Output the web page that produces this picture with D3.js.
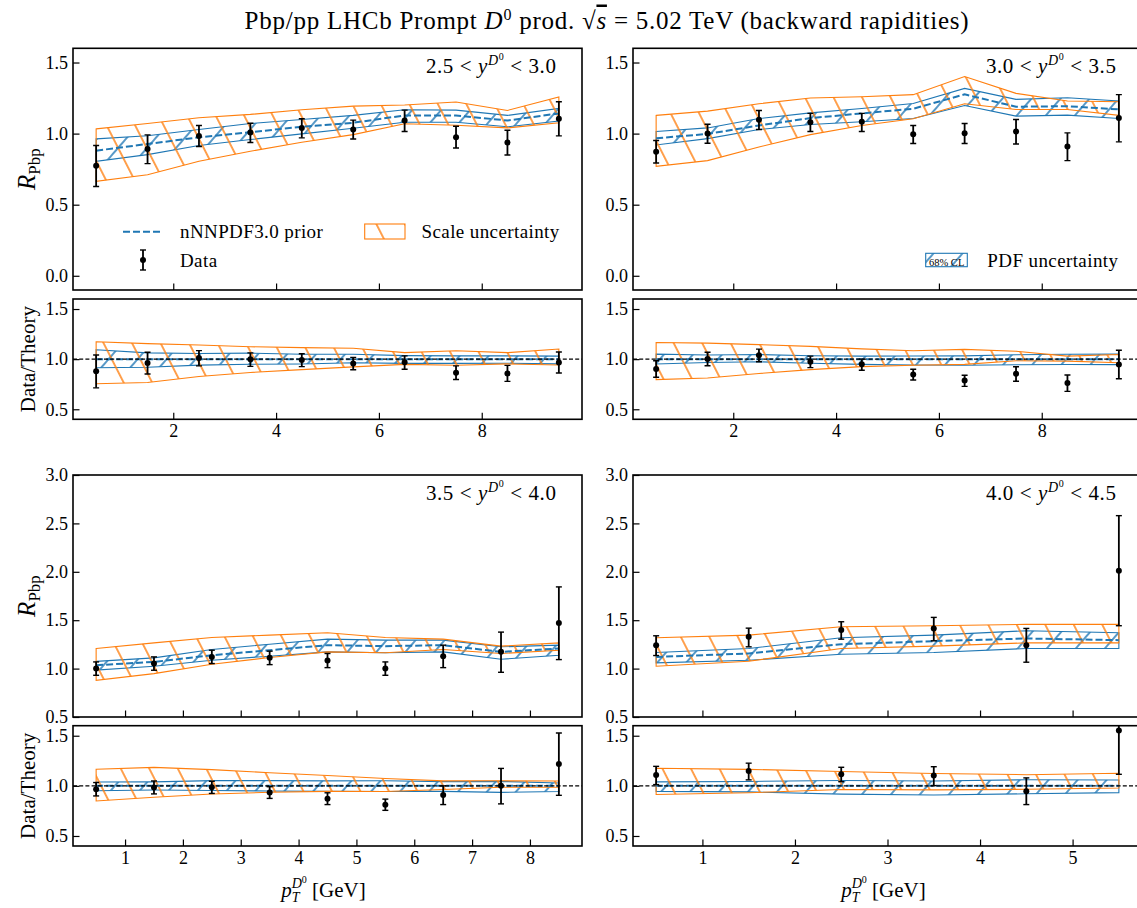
<!DOCTYPE html>
<html>
<head>
<meta charset="utf-8">
<script src="https://cdn.jsdelivr.net/npm/d3@7"></script>
<style>
  body { margin: 0; background: #fff; }
  svg { display: block; }
  text { font-family: 'Liberation Serif', 'Times New Roman', serif; fill: #000; white-space: pre; }
</style>
</head>
<body>
<svg id="chart" width="1137" height="908"></svg>
<script>
//////////////////////////////////////////////////////////////////////////////
// Data
//////////////////////////////////////////////////////////////////////////////

const pt_10 = [0.5, 1.5, 2.5, 3.5, 4.5, 5.5, 6.5, 7.5, 8.5, 9.5]
const pt_9 = [0.5, 1.5, 2.5, 3.5, 4.5, 5.5, 6.5, 7.5, 8.5]
const pt_6 = [0.5, 1.5, 2.5, 3.5, 4.5, 5.5]

// 2.5 < y < 3.0
const y25_data    = [0.774, 0.892, 0.984, 1.008, 1.040, 1.029, 1.092, 0.975, 0.937, 1.104]
const y25_data_hi = [0.916, 0.991, 1.057, 1.073, 1.104, 1.095, 1.165, 1.052, 1.024, 1.224]
const y25_data_lo = [0.628, 0.789, 0.909, 0.937, 0.970, 0.962, 1.015, 0.899, 0.850, 0.984]
const y25_cv      = [0.880, 0.927, 0.974, 1.010, 1.048, 1.076, 1.128, 1.128, 1.092, 1.142]
const y25_pdf_hi  = [0.963, 0.985, 1.029, 1.071, 1.099, 1.128, 1.168, 1.165, 1.128, 1.177]
const y25_pdf_lo  = [0.805, 0.852, 0.916, 0.958, 0.998, 1.038, 1.080, 1.080, 1.048, 1.088]
const y25_sc_hi   = [1.033, 1.071, 1.111, 1.135, 1.168, 1.193, 1.201, 1.222, 1.163, 1.257]
const y25_sc_lo   = [0.664, 0.711, 0.805, 0.876, 0.939, 0.993, 1.069, 1.059, 1.040, 1.076]

// 3.0 < y < 3.5
const y30_data    = [0.873, 1.000, 1.097, 1.080, 1.083, 0.996, 1.003, 1.015, 0.909, 1.109]
const y30_data_hi = [0.951, 1.066, 1.163, 1.142, 1.142, 1.057, 1.071, 1.099, 1.005, 1.274]
const y30_data_lo = [0.793, 0.932, 1.029, 1.015, 1.015, 0.930, 0.930, 0.927, 0.810, 0.942]
const y30_cv      = [0.967, 0.998, 1.057, 1.109, 1.142, 1.175, 1.276, 1.189, 1.193, 1.170]
const y30_pdf_hi  = [1.015, 1.040, 1.106, 1.146, 1.177, 1.212, 1.318, 1.241, 1.252, 1.229]
const y30_pdf_lo  = [0.920, 0.965, 1.029, 1.064, 1.083, 1.106, 1.198, 1.123, 1.130, 1.106]
const y30_sc_hi   = [1.128, 1.158, 1.210, 1.250, 1.259, 1.274, 1.401, 1.283, 1.229, 1.224]
const y30_sc_lo   = [0.770, 0.810, 0.906, 0.993, 1.057, 1.104, 1.210, 1.170, 1.170, 1.128]

// 3.5 < y < 4.0
const y35_data    = [1.000, 1.052, 1.121, 1.111, 1.083, 1.000, 1.128, 1.173, 1.470]
const y35_data_hi = [1.069, 1.121, 1.190, 1.180, 1.156, 1.069, 1.242, 1.377, 1.844]
const y35_data_lo = [0.931, 0.983, 1.052, 1.041, 1.010, 0.931, 1.010, 0.962, 1.093]
const y35_cv      = [1.035, 1.069, 1.138, 1.190, 1.242, 1.232, 1.242, 1.173, 1.207]
const y35_pdf_hi  = [1.075, 1.111, 1.197, 1.252, 1.304, 1.294, 1.294, 1.225, 1.242]
const y35_pdf_lo  = [0.985, 1.024, 1.086, 1.128, 1.173, 1.163, 1.173, 1.097, 1.138]
const y35_sc_hi   = [1.207, 1.266, 1.322, 1.346, 1.370, 1.322, 1.304, 1.232, 1.266]
const y35_sc_lo   = [0.879, 0.948, 1.045, 1.114, 1.173, 1.163, 1.197, 1.156, 1.190]

// 4.0 < y < 4.5
const y40_data    = [1.242, 1.328, 1.398, 1.415, 1.242, 2.010]
const y40_data_hi = [1.339, 1.418, 1.484, 1.529, 1.415, 2.580]
const y40_data_lo = [1.135, 1.225, 1.304, 1.287, 1.066, 1.443]
const y40_cv      = [1.121, 1.156, 1.252, 1.284, 1.311, 1.294]
const y40_pdf_hi  = [1.166, 1.207, 1.318, 1.346, 1.391, 1.370]
const y40_pdf_lo  = [1.059, 1.086, 1.149, 1.166, 1.207, 1.207]
const y40_sc_hi   = [1.318, 1.346, 1.432, 1.443, 1.457, 1.457]
const y40_sc_lo   = [1.024, 1.076, 1.207, 1.232, 1.266, 1.266]

const ticks_top_x = [2, 4, 6, 8]
const ticks_y35_x = [1, 2, 3, 4, 5, 6, 7, 8]
const ticks_y40_x = [1, 2, 3, 4, 5]
const ticks_main_top = [0.0, 0.5, 1.0, 1.5]
const ticks_main_bottom = [0.5, 1.0, 1.5, 2.0, 2.5, 3.0]
const ticks_ratio = [0.5, 1.0, 1.5]

//////////////////////////////////////////////////////////////////////////////
// Style / layout
//////////////////////////////////////////////////////////////////////////////

const blue = '#1f77b4'
const orange = '#ff7f0e'

const col_x = { left: [73, 582], right: [633, 1142] }
const row_y = {
  top:    { main: [48.3, 290], ratio: [299, 419.3] },
  bottom: { main: [475, 717],  ratio: [725.7, 846] }
}

const panels = [
  { id: 'y25', col: 'left', row: 'top', lo: '2.5', hi: '3.0', pt: pt_10,
    data: y25_data, data_hi: y25_data_hi, data_lo: y25_data_lo, cv: y25_cv,
    pdf_hi: y25_pdf_hi, pdf_lo: y25_pdf_lo, sc_hi: y25_sc_hi, sc_lo: y25_sc_lo,
    xdom: [0.05, 9.95], xticks: ticks_top_x, ydom: [-0.1, 1.6], yticks: ticks_main_top },
  { id: 'y30', col: 'right', row: 'top', lo: '3.0', hi: '3.5', pt: pt_10,
    data: y30_data, data_hi: y30_data_hi, data_lo: y30_data_lo, cv: y30_cv,
    pdf_hi: y30_pdf_hi, pdf_lo: y30_pdf_lo, sc_hi: y30_sc_hi, sc_lo: y30_sc_lo,
    xdom: [0.05, 9.95], xticks: ticks_top_x, ydom: [-0.1, 1.6], yticks: ticks_main_top },
  { id: 'y35', col: 'left', row: 'bottom', lo: '3.5', hi: '4.0', pt: pt_9,
    data: y35_data, data_hi: y35_data_hi, data_lo: y35_data_lo, cv: y35_cv,
    pdf_hi: y35_pdf_hi, pdf_lo: y35_pdf_lo, sc_hi: y35_sc_hi, sc_lo: y35_sc_lo,
    xdom: [0.1, 8.9], xticks: ticks_y35_x, ydom: [0.5, 3.0], yticks: ticks_main_bottom },
  { id: 'y40', col: 'right', row: 'bottom', lo: '4.0', hi: '4.5', pt: pt_6,
    data: y40_data, data_hi: y40_data_hi, data_lo: y40_data_lo, cv: y40_cv,
    pdf_hi: y40_pdf_hi, pdf_lo: y40_pdf_lo, sc_hi: y40_sc_hi, sc_lo: y40_sc_lo,
    xdom: [0.25, 5.75], xticks: ticks_y40_x, ydom: [0.5, 3.0], yticks: ticks_main_bottom }
]

const svg = d3.select('#chart')
const defs = svg.append('defs')

//////////////////////////////////////////////////////////////////////////////
// Helpers
//////////////////////////////////////////////////////////////////////////////

function make_hatch(id, color, angle, gap, width) {
  const p = defs.append('pattern')
    .attr('id', id)
    .attr('patternUnits', 'userSpaceOnUse')
    .attr('width', 40)
    .attr('height', gap)
    .attr('patternTransform', 'rotate(' + angle + ')')
  p.append('line')
    .attr('x1', -5).attr('x2', 45)
    .attr('y1', gap / 2).attr('y2', gap / 2)
    .attr('stroke', color)
    .attr('stroke-width', width)
}

// text made of pieces: {t, it, size, up, dx, over}
function math_text(sel, parts) {
  let cur = 0
  parts.forEach(function(p) {
    if (typeof p === 'string') p = { t: p }
    const off = p.up || 0
    const ts = sel.append('tspan').text(p.t).attr('dy', -off - cur)
    cur = -off
    if (p.it) ts.attr('font-style', 'italic')
    if (p.size) ts.attr('font-size', p.size)
    if (p.dx) ts.attr('dx', p.dx)
    if (p.over) ts.style('text-decoration', 'overline')
  })
}

make_hatch('hatch-scale', orange, 63, 25.4, 1.35)
make_hatch('hatch-pdf', blue, -49, 21.9, 1.3)

//////////////////////////////////////////////////////////////////////////////
// One set of axes (main or ratio)
//////////////////////////////////////////////////////////////////////////////

function draw_axes(cfg) {
  const g = svg.append('g').attr('id', cfg.id)
  const x = cfg.x, y = cfg.y
  const [x0, x1] = x.range()
  const [yb, yt] = y.range()

  const clip_id = 'clip-' + cfg.id
  defs.append('clipPath').attr('id', clip_id)
    .append('rect')
    .attr('x', x0).attr('y', yt)
    .attr('width', x1 - x0).attr('height', yb - yt)

  const plot = g.append('g').attr('clip-path', 'url(#' + clip_id + ')')

  const rows = cfg.pt.map((p, i) => ({
    pt: p, data: cfg.data[i], dhi: cfg.data_hi[i], dlo: cfg.data_lo[i], cv: cfg.cv[i],
    phi: cfg.pdf_hi[i], plo: cfg.pdf_lo[i], shi: cfg.sc_hi[i], slo: cfg.sc_lo[i]
  }))

  // PDF band
  plot.append('path')
    .attr('d', d3.area().x(d => x(d.pt)).y0(d => y(d.plo)).y1(d => y(d.phi))(rows))
    .attr('fill', 'url(#hatch-pdf)')
    .attr('stroke', blue)
    .attr('stroke-width', 1.1)

  // Scale band
  plot.append('path')
    .attr('d', d3.area().x(d => x(d.pt)).y0(d => y(d.slo)).y1(d => y(d.shi))(rows))
    .attr('fill', 'url(#hatch-scale)')
    .attr('stroke', orange)
    .attr('stroke-width', 1.1)

  // Central value
  plot.append('path')
    .attr('d', d3.line().x(d => x(d.pt)).y(d => y(d.cv))(rows))
    .attr('fill', 'none')
    .attr('stroke', blue)
    .attr('stroke-width', 2)
    .attr('stroke-dasharray', '7,3')

  // Reference line in ratio panels
  if (cfg.ratio) {
    plot.append('line')
      .attr('x1', x0).attr('x2', x1)
      .attr('y1', y(1)).attr('y2', y(1))
      .attr('stroke', '#000')
      .attr('stroke-width', 1.2)
      .attr('stroke-dasharray', '4,2.2')
  }

  // Data
  const pts = plot.append('g').selectAll('g').data(rows).join('g')
  pts.append('line')
    .attr('x1', d => x(d.pt)).attr('x2', d => x(d.pt))
    .attr('y1', d => y(d.dlo)).attr('y2', d => y(d.dhi))
    .attr('stroke', '#000').attr('stroke-width', 1.8)
  pts.selectAll('line.cap')
    .data(d => [d.dlo, d.dhi].map(v => ({ pt: d.pt, v: v })))
    .join('line')
    .attr('class', 'cap')
    .attr('x1', d => x(d.pt) - 3).attr('x2', d => x(d.pt) + 3)
    .attr('y1', d => y(d.v)).attr('y2', d => y(d.v))
    .attr('stroke', '#000').attr('stroke-width', 1.4)
  pts.append('circle')
    .attr('cx', d => x(d.pt)).attr('cy', d => y(d.data))
    .attr('r', 3).attr('fill', '#000')

  // Axes
  const xa = g.append('g')
    .attr('transform', 'translate(0,' + yb + ')')
    .call(d3.axisBottom(x).tickValues(cfg.xticks)
      .tickSizeInner(-6.5).tickSizeOuter(0).tickPadding(5)
      .tickFormat(cfg.xlabels ? d3.format('d') : ''))
  const ya = g.append('g')
    .attr('transform', 'translate(' + x0 + ',0)')
    .call(d3.axisLeft(y).tickValues(cfg.yticks)
      .tickSizeInner(-6.5).tickSizeOuter(0).tickPadding(5)
      .tickFormat(d3.format('.1f')))
  ;[xa, ya].forEach(a => {
    a.select('.domain').remove()
    a.attr('font-family', null).attr('font-size', null)
    a.selectAll('line').attr('stroke', '#000').attr('stroke-width', 1.2)
    a.selectAll('text').attr('font-size', 18).attr('fill', '#000')
  })

  // Frame
  g.append('rect')
    .attr('x', x0).attr('y', yt)
    .attr('width', x1 - x0).attr('height', yb - yt)
    .attr('fill', 'none')
    .attr('stroke', '#000')
    .attr('stroke-width', 1.6)
}

//////////////////////////////////////////////////////////////////////////////
// Panels
//////////////////////////////////////////////////////////////////////////////

panels.forEach(function(p) {
  const [x0, x1] = col_x[p.col]
  const rows = row_y[p.row]
  const x = d3.scaleLinear().domain(p.xdom).range([x0, x1])
  const y_main = d3.scaleLinear().domain(p.ydom).range([rows.main[1], rows.main[0]])
  const y_ratio = d3.scaleLinear().domain([0.4, 1.6]).range([rows.ratio[1], rows.ratio[0]])

  draw_axes({
    id: p.id + '-main', x: x, y: y_main, pt: p.pt,
    data: p.data, data_hi: p.data_hi, data_lo: p.data_lo, cv: p.cv,
    pdf_hi: p.pdf_hi, pdf_lo: p.pdf_lo, sc_hi: p.sc_hi, sc_lo: p.sc_lo,
    xticks: p.xticks, yticks: p.yticks, xlabels: false, ratio: false
  })

  const div = (arr) => arr.map((v, i) => v / p.cv[i])
  draw_axes({
    id: p.id + '-ratio', x: x, y: y_ratio, pt: p.pt,
    data: div(p.data), data_hi: div(p.data_hi), data_lo: div(p.data_lo), cv: div(p.cv),
    pdf_hi: div(p.pdf_hi), pdf_lo: div(p.pdf_lo), sc_hi: div(p.sc_hi), sc_lo: div(p.sc_lo),
    xticks: p.xticks, yticks: ticks_ratio, xlabels: true, ratio: true
  })

  // Rapidity label
  const lab = svg.append('text')
    .attr('x', x0 + 0.95 * (x1 - x0))
    .attr('y', rows.main[0] + 25)
    .attr('text-anchor', 'end')
    .attr('font-size', 21)
    .attr('letter-spacing', 0.6)
  math_text(lab, [
    p.lo + ' < ',
    { t: 'y', it: true },
    { t: 'D', it: true, size: 14, up: 8 },
    { t: '0', size: 10, up: 13 },
    { t: ' < ' + p.hi, up: 0 }
  ])

  // Y labels on the left column
  if (p.col === 'left') {
    const yl = svg.append('text')
      .attr('transform', 'translate(35,' + (rows.main[0] + rows.main[1]) / 2 + ') rotate(-90)')
      .attr('text-anchor', 'middle')
      .attr('font-size', 25)
    math_text(yl, [{ t: 'R', it: true }, { t: 'Pbp', size: 17, up: -5 }])

    svg.append('text')
      .attr('transform', 'translate(35,' + (rows.ratio[0] + rows.ratio[1]) / 2 + ') rotate(-90)')
      .attr('text-anchor', 'middle')
      .attr('font-size', 21)
      .text('Data/Theory')
  }

  // X labels on the bottom row
  if (p.row === 'bottom') {
    const xl = svg.append('text')
      .attr('x', (x0 + x1) / 2 - 4)
      .attr('y', 897)
      .attr('text-anchor', 'middle')
      .attr('font-size', 21)
    math_text(xl, [
      { t: 'p', it: true },
      { t: 'T', it: true, size: 14, up: -5 },
      { t: 'D', it: true, size: 14, up: 9, dx: -8 },
      { t: '0', size: 10, up: 14 },
      { t: ' [GeV]', up: 0 }
    ])
  }
})

//////////////////////////////////////////////////////////////////////////////
// Legends
//////////////////////////////////////////////////////////////////////////////

const leg = svg.append('g').attr('id', 'legend-main').attr('transform', 'translate(73,48.3)')
leg.append('line')
  .attr('x1', 50).attr('x2', 90).attr('y1', 183.4).attr('y2', 183.4)
  .attr('stroke', blue).attr('stroke-width', 2).attr('stroke-dasharray', '7,3')
leg.append('text').attr('x', 107).attr('y', 189.7).attr('font-size', 19)
  .attr('letter-spacing', 0.4).text('nNNPDF3.0 prior')
leg.append('line')
  .attr('x1', 70).attr('x2', 70).attr('y1', 201.7).attr('y2', 221.7)
  .attr('stroke', '#000').attr('stroke-width', 1.8)
;[201.7, 221.7].forEach(v => leg.append('line')
  .attr('x1', 67).attr('x2', 73).attr('y1', v).attr('y2', v)
  .attr('stroke', '#000').attr('stroke-width', 1.4))
leg.append('circle').attr('cx', 70).attr('cy', 211.7).attr('r', 3).attr('fill', '#000')
leg.append('text').attr('x', 107).attr('y', 218.7).attr('font-size', 19)
  .attr('letter-spacing', 0.4).text('Data')
leg.append('rect')
  .attr('x', 291.7).attr('y', 175.7).attr('width', 40.3).attr('height', 15)
  .attr('fill', 'url(#hatch-scale)').attr('stroke', orange).attr('stroke-width', 1.1)
leg.append('text').attr('x', 348.5).attr('y', 189.7).attr('font-size', 19)
  .attr('letter-spacing', 0.4).text('Scale uncertainty')

const leg2 = svg.append('g').attr('id', 'legend-pdf').attr('transform', 'translate(633,48.3)')
leg2.append('rect')
  .attr('x', 292.7).attr('y', 205).attr('width', 41.6).attr('height', 13.4)
  .attr('fill', 'url(#hatch-pdf)').attr('stroke', blue).attr('stroke-width', 1.1)
leg2.append('text').attr('x', 296).attr('y', 218).attr('font-size', 10.5)
  .attr('fill', '#444').text('68% CL')
leg2.append('text').attr('x', 354.3).attr('y', 218.7).attr('font-size', 19)
  .attr('letter-spacing', 0.4).text('PDF uncertainty')

//////////////////////////////////////////////////////////////////////////////
// Title
//////////////////////////////////////////////////////////////////////////////

const title = svg.append('text')
  .attr('x', 607).attr('y', 28.5)
  .attr('text-anchor', 'middle')
  .attr('font-size', 25)
  .attr('letter-spacing', 0.75)
math_text(title, [
  'Pbp/pp LHCb Prompt ',
  { t: 'D', it: true },
  { t: '0', size: 16, up: 9 },
  { t: ' prod. ', up: 0 },
  { t: '\u221A' },
  { t: 's', it: true, over: true },
  ' = 5.02 TeV (backward rapidities)'
])
</script>
</body>
</html>
